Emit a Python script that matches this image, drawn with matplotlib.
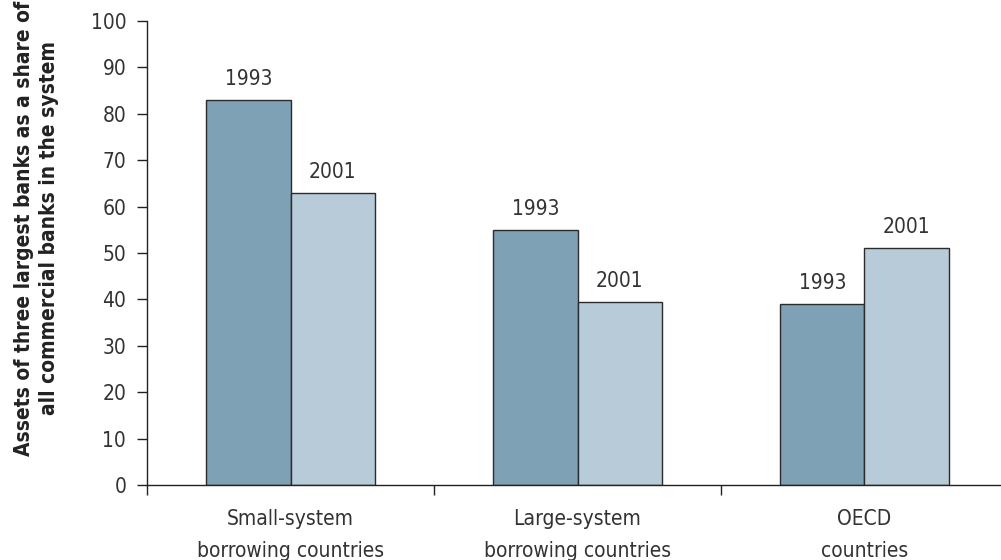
import matplotlib
matplotlib.use("Agg")
import matplotlib.pyplot as plt
import numpy as np
from matplotlib import font_manager

categories = ["Small-system\nborrowing countries", "Large-system\nborrowing countries", "OECD\ncountries"]
years = ["1993", "2001"]
values_1993 = [83, 55, 39]
values_2001 = [63, 39.5, 51]
y_ticks = [0, 10, 20, 30, 40, 50, 60, 70, 80, 90, 100]

# Prefer a condensed sans face when one is installed
regular, bold = None, None
for f in font_manager.fontManager.ttflist:
    cond = ("Condensed" in f.name or "Narrow" in f.name or
            str(f.stretch) in ("condensed", "semi-condensed", "extra-condensed", "ultra-condensed")
            or (isinstance(f.stretch, int) and f.stretch < 500))
    if cond and "Extra" not in f.name and f.style == "normal":
        w = f.weight if isinstance(f.weight, int) else {"normal": 400, "regular": 400, "bold": 700}.get(str(f.weight), 400)
        if w == 400 and regular is None:
            regular = f.fname
        if w == 700 and bold is None:
            bold = f.fname

plt.rcParams["font.family"] = ["Liberation Sans", "DejaVu Sans"]
fp_reg = font_manager.FontProperties(fname=regular) if regular else font_manager.FontProperties(family="Liberation Sans")
fp_bold = font_manager.FontProperties(fname=bold) if bold else font_manager.FontProperties(family="Liberation Sans", weight="bold")

text_color = "#333333"
fig = plt.figure(figsize=(10.01, 5.6), dpi=100)
ax = fig.add_axes([147 / 1001, 75 / 560, 861 / 1001, 464 / 560])

x = np.arange(len(categories))
w = 0.293
colors = ["#7fa1b5", "#b8cbd8"]
b1 = ax.bar(x - w / 2, values_1993, w, color=colors[0], edgecolor="#2b2b2b", linewidth=1.0)
b2 = ax.bar(x + w / 2, values_2001, w, color=colors[1], edgecolor="#2b2b2b", linewidth=1.0)

fs = 15
for bars, lab in ((b1, years[0]), (b2, years[1])):
    for r in bars:
        t = ax.annotate(lab, (r.get_x() + r.get_width() / 2, r.get_height()),
                        xytext=(0, 8), textcoords="offset points",
                        ha="center", va="bottom", color=text_color, fontproperties=fp_reg)
        t.set_fontsize(fs)

ax.set_xlim(-0.5, 2.5)
ax.set_ylim(0, 100)
ax.set_yticks(y_ticks)
ax.set_xticks([-0.5, 0.5, 1.5, 2.5])
ax.set_xticklabels([])
for lbl in ax.get_yticklabels():
    lbl.set_fontproperties(fp_reg)
    lbl.set_fontsize(fs)
for xi, c in zip(x, categories):
    t = ax.text(xi, -0.052, c, transform=ax.get_xaxis_transform(), ha="center", va="top",
                color=text_color, linespacing=1.75, fontproperties=fp_reg)
    t.set_fontsize(fs)

ax.tick_params(axis="y", direction="out", length=7, width=1, colors="#222222",
               labelcolor=text_color, pad=8)
ax.tick_params(axis="x", direction="out", length=7, width=1, colors="#222222")
for s in ["top", "right"]:
    ax.spines[s].set_visible(False)
for s in ["left", "bottom"]:
    ax.spines[s].set_color("#222222")
    ax.spines[s].set_linewidth(1)

yl = ax.set_ylabel("Assets of three largest banks as a share of\nall commercial banks in the system",
                   color="#222222", linespacing=1.3, fontproperties=fp_bold)
yl.set_fontsize(fs)
ax.yaxis.set_label_coords(-0.102, 0.554)

fig.savefig("out.png", dpi=100)
